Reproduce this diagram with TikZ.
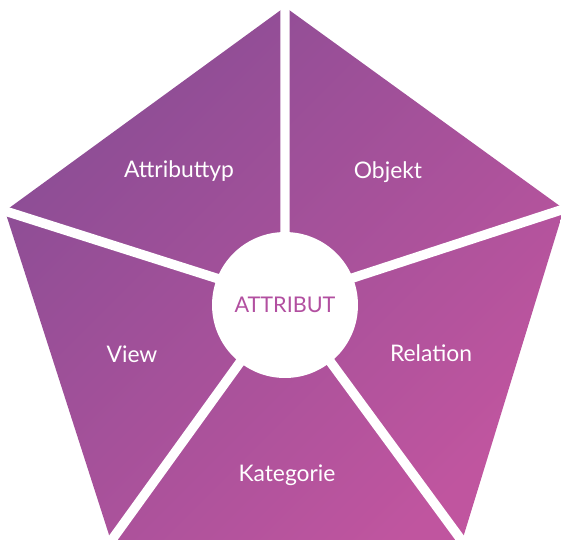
\documentclass[tikz,border=0pt]{standalone}
\usepackage{fontspec}
\setmainfont{Lato}
\definecolor{plum}{HTML}{8B4D95}
\definecolor{orchid}{HTML}{C0559F}
\definecolor{core text}{HTML}{B24FA0}

\begin{document}
\begin{tikzpicture}[x=0.02cm, y=-0.02cm,
    gap/.style={white, line width=5.4pt, shorten >=-3pt},
    lbl/.style={text=white, anchor=base, inner sep=0pt, font=\fontsize{13}{15}\selectfont}]
                        \useasboundingbox (0, 0) rectangle (561, 539);
                        \coordinate (t) at (285, 7);
                        \coordinate (r) at (564, 209);
                        \coordinate (br) at (462, 541);
                        \coordinate (bl) at (111, 541);
                        \coordinate (l) at (5, 211);
                        \coordinate (c) at (285, 300);

                        \shade[top color=plum, bottom color=orchid, shading angle=45]
                        (t) -- (r) -- (br) -- (bl) -- (l) -- cycle;

                        \draw[gap]
                        (c) -- (t)
                        (c) -- (r)
                        (c) -- (br)
                        (c) -- (bl)
                        (c) -- (l);

                        \node[circle, fill=white, minimum size=2.92cm, inner sep=0pt, text=core text, font=\fontsize{12.3}{15}\selectfont] (core) at (285, 305) {ATTRIBUT};

                        \node[lbl] (typ) at (179, 177) {Attributtyp};
                        \node[lbl] (obj) at (388, 178) {Objekt};
                        \node[lbl] (view) at (132, 362) {View};
                        \node[lbl] (rel) at (431, 361) {Relation};
                        \node[lbl] (kat) at (287, 481) {Kategorie};
                    \end{tikzpicture}
\end{document}
